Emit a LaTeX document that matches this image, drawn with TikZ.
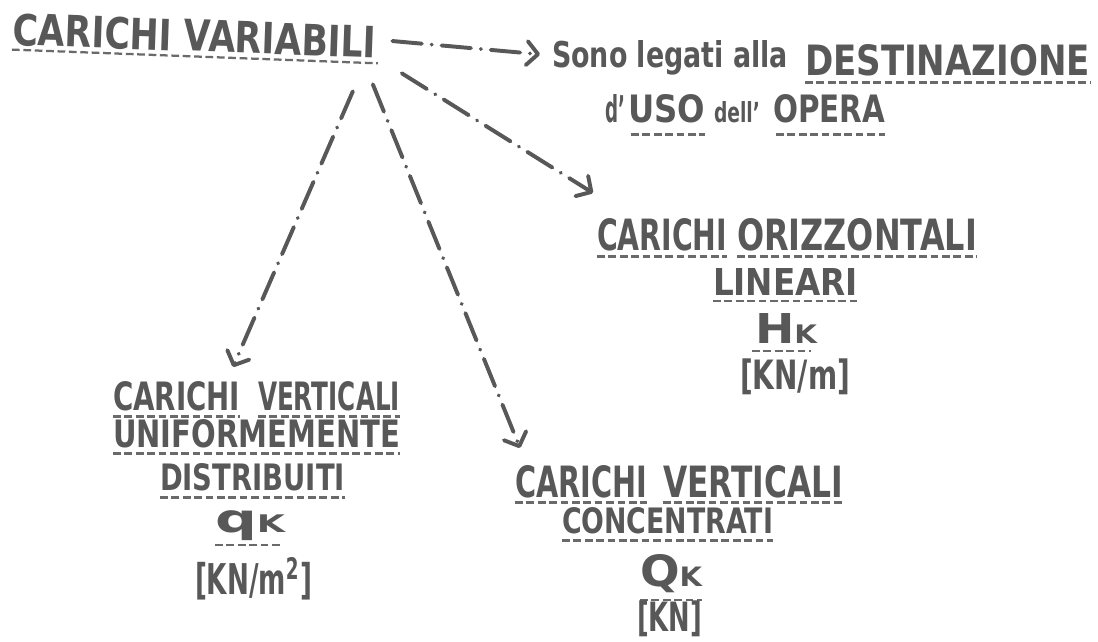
\documentclass[tikz,border=0pt]{standalone}
\usepackage{graphicx}
\usepackage{fontspec}
\setmainfont{DejaVu Sans}
\usetikzlibrary{arrows.meta}
\definecolor{ink}{HTML}{585858}
\definecolor{ulink}{HTML}{6a6a6a}
\newlength\upx
\setlength\upx{0.025cm}
\newcommand\hwr[3]{\resizebox{#1\upx}{#2\upx}{\bfseries #3}}
\newcommand\hwt[3]{\resizebox*{#1\upx}{#2\upx}{\bfseries #3}}
\newcommand\smk{\scalebox{0.62}{K}}
\tikzset{
  t/.style={inner sep=0pt, outer sep=0pt, text=ink, anchor=base west},
  tnw/.style={inner sep=0pt, outer sep=0pt, text=ink, anchor=north west},
  ul/.style={draw=ulink, line width=1.6pt, dash pattern=on 5.5pt off 2.6pt},
  conn/.style={draw=ink, line width=2.8pt, line cap=round,
    dash pattern=on 21pt off 7pt on 0.1pt off 7pt,
    -{Straight Barb[length=8pt,width=17pt,round]}}
}
\begin{document}
\begin{tikzpicture}[x=0.025cm,y=-0.025cm]
\useasboundingbox[fill=white] (0,0) rectangle (1098,641);
% main title
\node[t, rotate=-2] (cv) at (12,45) {\hwr{364}{32}{CARICHI VARIABILI}};
\draw[ul] ([shift={(0,4)}]cv.south west) -- ([shift={(2,5)}]cv.south east);
% description
\node[t] (sono) at (552,67) {\hwr{236}{27}{Sono legati alla}};
\node[t] (dest) at (805,75) {\hwr{285}{31}{DESTINAZIONE}};
\draw[ul] ([shift={(0,7)}]dest.south west) -- ([shift={(0,7)}]dest.south east);
\node[t] (dap) at (605,122) {\hwr{20}{28}{d'}};
\node[t] (uso) at (628,122) {\hwr{77}{28}{USO}};
\node[t] (dell) at (714,122) {\hwr{46}{21}{dell'}};
\node[t] (opera) at (773,122) {\hwr{112}{28}{OPERA}};
\draw[ul] ([shift={(3,12)}]uso.south west) -- ([shift={(0,12)}]uso.south east);
\draw[ul] ([shift={(3,12)}]opera.south west) -- ([shift={(0,12)}]opera.south east);
% right node
\node[t] (r1a) at (597,250) {\hwr{130}{32}{CARICHI}};
\node[t] (r1b) at (737,250) {\hwr{240}{32}{ORIZZONTALI}};
\draw[ul] ([shift={(0,6)}]r1a.south west) -- ([shift={(0,6)}]r1a.south east);
\draw[ul] ([shift={(0,6)}]r1b.south west) -- ([shift={(0,6)}]r1b.south east);
\node[t] (r2) at (713,295) {\hwr{145}{27}{LINEARI}};
\draw[ul] ([shift={(0,6)}]r2.south west) -- ([shift={(0,6)}]r2.south east);
\node[t] (r3) at (755,343) {\hwr{62}{30}{H\smk}};
\draw[ul] ([shift={(-3,8)}]r3.south west) -- ([shift={(-6,8)}]r3.south east);
\node[tnw] (r4) at (740,359) {\hwt{110}{36}{[KN/m]}};
% left node
\node[t] (l1a) at (113,410) {\hwr{127}{29}{CARICHI}};
\node[t] (l1b) at (258,410) {\hwr{142}{29}{VERTICALI}};
\draw[ul] ([shift={(0,6)}]l1a.south west) -- ([shift={(0,6)}]l1a.south east);
\draw[ul] ([shift={(0,6)}]l1b.south west) -- ([shift={(0,6)}]l1b.south east);
\node[t] (l2) at (113,447) {\hwr{287}{28}{UNIFORMEMENTE}};
\draw[ul] ([shift={(0,6)}]l2.south west) -- ([shift={(0,6)}]l2.south east);
\node[t] (l3) at (160,490) {\hwr{185}{27}{DISTRIBUITI}};
\draw[ul] ([shift={(0,7)}]l3.south west) -- ([shift={(0,7)}]l3.south east);
\node[tnw] (l4) at (215,511) {\hwt{70}{30}{q\smk}};
\draw[ul] ([shift={(0,4)}]l4.south west) -- ([shift={(-4,4)}]l4.south east);
\node[tnw] (l5) at (195,557) {\hwt{117}{43}{[KN/m\textsuperscript{2}]}};
% middle node
\node[t] (m1a) at (515,497) {\hwr{132}{32}{CARICHI}};
\node[t] (m1b) at (663,497) {\hwr{180}{32}{VERTICALI}};
\draw[ul] ([shift={(0,5)}]m1a.south west) -- ([shift={(0,5)}]m1a.south east);
\draw[ul] ([shift={(0,5)}]m1b.south west) -- ([shift={(0,5)}]m1b.south east);
\node[t] (m2) at (562,533) {\hwr{211}{26}{CONCENTRATI}};
\draw[ul] ([shift={(0,7)}]m2.south west) -- ([shift={(0,7)}]m2.south east);
\node[t] (m3) at (640,586) {\hwr{62}{32}{Q\smk}};
\draw[ul] ([shift={(0,8)}]m3.south west) -- ([shift={(0,8)}]m3.south east);
\node[tnw] (m4) at (637,601) {\hwt{65}{36}{[KN]}};
% connectors
\draw[conn] ([shift={(16,-1)}]cv.east) -- ([shift={(-12,-3)}]sono.west);
\draw[conn] ([shift={(-23,33)}]cv.south east) -- ([shift={(-25,-14)}]l1b.north west);
\draw[conn] ([shift={(-3,26)}]cv.south east) -- ([shift={(5,-17)}]m1a.north west);
\draw[conn] ([shift={(26,15)}]cv.south east) -- ([shift={(-4,-25)}]r1a.north west);
\end{tikzpicture}
\end{document}
